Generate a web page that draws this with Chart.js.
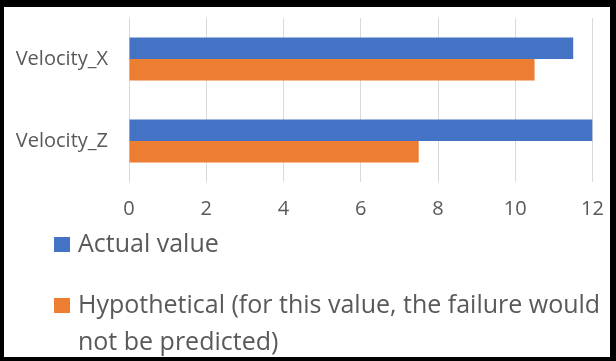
<!DOCTYPE html>
<html>
<head>
<meta charset="utf-8">
<script src="https://cdn.jsdelivr.net/npm/chart.js@4/dist/chart.umd.min.js"></script>
<style>
    html, body { margin: 0; padding: 0; background: #000; }
    #frame { position: absolute; left: 4px; top: 7px; width: 606px; height: 350px; background: #fff; }
    canvas { display: block; }
</style>
</head>
<body>
<div id="frame"><canvas id="chart" width="606" height="350"></canvas></div>
<script>
// data
const categories = ["Velocity_X", "Velocity_Z"];
const actualValues = [11.5, 12];
const hypotheticalValues = [10.5, 7.5];
const seriesNames = ["Actual value", "Hypothetical (for this value, the failure would not be predicted)"];
const xTicks = [0, 2, 4, 6, 8, 10, 12];

const TEXT = "#595959";
const FONT = "'Open Sans'";

// legend drawn under the axis, one item per row, long labels wrapped
const stackedLegend = {
    id: "stackedLegend",
    afterDraw(chart) {
        const ctx = chart.ctx;
        const top = chart.scales.x.bottom;
        const rows = [{ base: 25, lineH: 37 }, { base: 86, lineH: 37 }];
        const boxX = 50, boxSize = 15, textX = 74;
        const maxW = chart.width - textX - 2;

        ctx.save();
        ctx.font = `25px ${FONT}`;
        ctx.textBaseline = "alphabetic";
        ctx.textAlign = "left";

        chart.data.datasets.forEach((ds, i) => {
            const r = rows[i];
            const y = top + r.base;
            ctx.fillStyle = ds.backgroundColor;
            ctx.fillRect(boxX, y - boxSize, boxSize + 1, boxSize);

            // greedy word wrap
            const words = ds.label.split(" ");
            const lines = [];
            let cur = "";
            for (const w of words) {
                const test = cur ? cur + " " + w : w;
                if (cur && ctx.measureText(test).width > maxW) {
                    lines.push(cur);
                    cur = w;
                } else cur = test;
            }
            if (cur) lines.push(cur);

            ctx.fillStyle = TEXT;
            lines.forEach((ln, k) => ctx.fillText(ln, textX, y + k * r.lineH));
        });
        ctx.restore();
    }
};

new Chart(document.getElementById("chart"), {
    type: "bar",
    data: {
        labels: categories,
        datasets: [
            { label: seriesNames[0], data: actualValues, backgroundColor: "#4472C4" },
            { label: seriesNames[1], data: hypotheticalValues, backgroundColor: "#ED7D31" }
        ]
    },
    options: {
        indexAxis: "y",
        responsive: false,
        animation: false,
        layout: { padding: { top: 11, left: 0, right: 17.5, bottom: 130 } },
        datasets: { bar: { categoryPercentage: 0.525, barPercentage: 1.0 } },
        plugins: { legend: { display: false }, tooltip: { enabled: false } },
        scales: {
            x: {
                min: 0,
                max: 12,
                afterBuildTicks: s => { s.ticks = xTicks.map(v => ({ value: v })); },
                afterFit: s => { s.height = 45; },
                // invisible tick marks give the gap between grid and labels
                grid: { color: "#d9d9d9", drawTicks: true, tickLength: 17, tickColor: "rgba(0,0,0,0)" },
                border: { display: false },
                ticks: { color: TEXT, font: { family: FONT, size: 20, lineHeight: 1 }, padding: 0 }
            },
            y: {
                afterFit: s => { s.width = 125; },
                grid: { display: true, drawOnChartArea: false, drawTicks: true, tickLength: 21, tickColor: "rgba(0,0,0,0)" },
                border: { display: false },
                ticks: { color: TEXT, font: { family: FONT, size: 20, lineHeight: 1 }, padding: 0 }
            }
        }
    },
    plugins: [stackedLegend]
});
</script>
</body>
</html>
